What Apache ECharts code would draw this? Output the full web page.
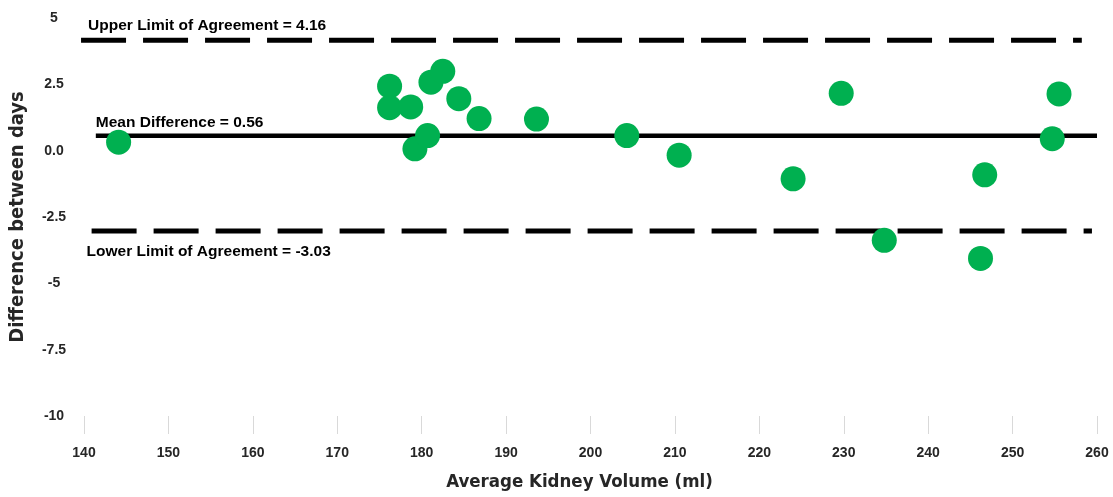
<!DOCTYPE html>
<html>
<head>
<meta charset="utf-8">
<script src="https://cdn.jsdelivr.net/npm/echarts@6/dist/echarts.min.js"></script>
<style>
html,body{margin:0;padding:0;background:#fff;}
#chart{width:1113px;height:497px;}
</style>
</head>
<body>
<div id="chart"></div>
<script>
// ---- data ----
var avgVolume = [144.1, 176.2, 176.2, 178.7, 179.2, 180.7, 181.1, 182.5, 184.4, 186.8, 193.6, 204.3, 210.5, 224.0, 229.7, 234.8, 246.2, 246.7, 254.7, 255.5];
var difference = [0.32, 2.43, 1.62, 1.65, 0.07, 0.57, 2.58, 2.99, 1.96, 1.21, 1.19, 0.57, -0.17, -1.06, 2.16, -3.38, -4.06, -0.91, 0.45, 2.14];

var upperLimit = 4.16;
var meanDiff = 0.56;
var lowerLimit = -3.03;
var upperRange = [139.65, 258.2];
var meanRange = [141.4, 260];
var lowerRange = [140.9, 259.4];

var annotationTexts = ['Upper Limit of Agreement = 4.16', 'Mean Difference = 0.56', 'Lower Limit of Agreement = -3.03'];

var xTicks = [140, 150, 160, 170, 180, 190, 200, 210, 220, 230, 240, 250, 260];
var yTickValues = [-10, -7.5, -5, -2.5, 0, 2.5, 5];
var yTickLabels = ['-10', '-7.5', '-5', '-2.5', '0.0', '2.5', '5'];

var xTitle = 'Average Kidney Volume (ml)';
var yTitle = 'Difference between days';

// ---- chart ----
var points = avgVolume.map(function (x, i) { return [x, difference[i]]; });
var chart = echarts.init(document.getElementById('chart'), null, {renderer: 'canvas'});
var tickFont = "'Liberation Sans', Arial, sans-serif";
var titleFont = "'Liberation Sans Narrow', 'DejaVu Sans Condensed', 'Liberation Sans', sans-serif";

function lineSeries(range, value, dashed, width) {
  return {
    type: 'line',
    data: [[range[0], value], [range[1], value]],
    symbol: 'none',
    clip: false,
    silent: true,
    z: 2,
    lineStyle: {color: '#000', width: width, type: dashed ? [45, 17] : 'solid', cap: 'butt', opacity: 1},
    animation: false
  };
}

function labelSeries(range, value, text, offset) {
  return {
    type: 'scatter',
    data: [[range[0], value]],
    symbolSize: 0,
    clip: false,
    silent: true,
    z: 4,
    itemStyle: {opacity: 1},
    label: {
      show: true,
      position: offset,
      align: 'left',
      verticalAlign: 'middle',
      formatter: text,
      fontFamily: tickFont,
      fontWeight: 'bold',
      fontSize: 15.5,
      color: '#000',
      opacity: 1
    },
    animation: false
  };
}

var option = {
  animation: false,
  backgroundColor: '#fff',
  grid: {left: 82, right: 16, top: 18, bottom: 76, containLabel: false},
  xAxis: {
    type: 'value',
    min: xTicks[0],
    max: xTicks[xTicks.length - 1],
    interval: 10,
    name: xTitle,
    nameLocation: 'middle',
    nameGap: 57,
    nameTextStyle: {fontFamily: titleFont, fontWeight: 'bold', fontSize: 18.5, color: '#262626', padding: [0, 22, 0, 0]},
    axisLine: {show: false, onZero: false},
    axisTick: {show: true, length: 18, lineStyle: {color: '#d9d9d9', width: 1}},
    splitLine: {show: false},
    axisLabel: {margin: 30, fontFamily: tickFont, fontWeight: 'bold', fontSize: 14, color: '#262626'}
  },
  yAxis: {
    type: 'value',
    min: yTickValues[0],
    max: yTickValues[yTickValues.length - 1],
    interval: 2.5,
    name: yTitle,
    nameLocation: 'middle',
    nameGap: 56,
    nameTextStyle: {fontFamily: titleFont, fontWeight: 'bold', fontSize: 20, color: '#262626'},
    axisLine: {show: false, onZero: false},
    axisTick: {show: false},
    splitLine: {show: false},
    axisLabel: {
      margin: 30,
      align: 'center',
      fontFamily: tickFont,
      fontWeight: 'bold',
      fontSize: 14,
      color: '#262626',
      formatter: function (v) {
        var idx = yTickValues.indexOf(v);
        return idx >= 0 ? yTickLabels[idx] : '';
      }
    }
  },
  series: [
    lineSeries(upperRange, upperLimit, true, 5),
    lineSeries(meanRange, meanDiff, false, 4.5),
    lineSeries(lowerRange, lowerLimit, true, 5),
    labelSeries(upperRange, upperLimit, annotationTexts[0], [7, -15]),
    labelSeries(meanRange, meanDiff, annotationTexts[1], [0, -13]),
    labelSeries(lowerRange, lowerLimit, annotationTexts[2], [-5, 21]),
    {
      type: 'scatter',
      data: points,
      symbol: 'circle',
      symbolSize: 25,
      z: 5,
      itemStyle: {color: '#00B050', opacity: 1},
      animation: false
    }
  ]
};
chart.setOption(option);
</script>
</body>
</html>
